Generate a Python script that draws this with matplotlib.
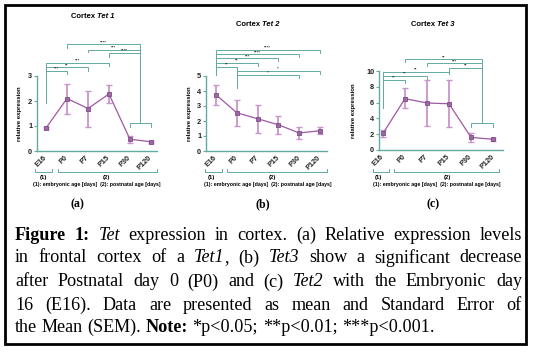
import matplotlib
matplotlib.use("Agg")
import matplotlib.pyplot as plt
from matplotlib.lines import Line2D
from matplotlib.patches import Rectangle

W, H = 535, 352
fig = plt.figure(figsize=(5.35, 3.52), dpi=100)

TEAL = "#62aba3"
PURPLE = "#a157a6"
ERR = "#c994cc"
SANS = ["Liberation Sans", "DejaVu Sans"]
SERIF = ["Liberation Serif", "DejaVu Serif"]

ages = ["E16", "P0", "P7", "P15", "P30", "P120"]

tet1_mean = [0.92, 2.10, 1.70, 2.28, 0.47, 0.37]
tet1_lo = [0.87, 1.50, 0.97, 1.93, 0.33, 0.32]
tet1_hi = [0.97, 2.70, 2.40, 2.65, 0.60, 0.42]

tet2_mean = [3.75, 2.55, 2.15, 1.75, 1.20, 1.35]
tet2_lo = [3.10, 1.65, 1.20, 1.15, 0.80, 1.12]
tet2_hi = [4.40, 3.40, 3.10, 2.35, 1.60, 1.58]

tet3_mean = [2.10, 6.50, 5.95, 5.85, 1.60, 1.35]
tet3_lo = [1.70, 5.30, 3.10, 2.90, 1.00, 1.15]
tet3_hi = [2.50, 7.80, 8.80, 8.80, 2.20, 1.55]

# significance brackets: x1, x2, height, stars, left end, right end
sig1 = [(0, 1, 3.20, "***", 1.92, 3.07), (0, 2, 3.35, "**", 1.92, 3.22),
        (0, 3, 3.53, "***", 1.92, 3.40), (1, 4.48, 4.27, "****", 4.13, 1.12),
        (2, 4.48, 4.04, "***", 3.95, 1.12), (3, 4.48, 3.93, "****", 3.77, 1.12),
        (4, 5, 1.12, "", 0.96, 0.96)]
sig2 = [(0, 5, 6.73, "****", 5.07, 6.53), (0, 4, 6.45, "****", 5.07, 6.25),
        (0, 3, 6.18, "***", 5.07, 5.98), (0, 2, 5.89, "**", 5.07, 5.69),
        (0, 1, 5.62, "**", 5.07, 4.18), (1, 5, 5.35, "*", 4.18, 5.15),
        (1, 4, 5.07, "*", 4.18, 4.87)]
sig3 = [(1, 4.51, 11.48, "**", 11.13, 3.38), (2, 4.51, 10.97, "***", 10.62, 3.38),
        (3, 4.51, 10.42, "**", 9.92, 3.38), (0, 3, 9.92, "**", 5.27, 9.57),
        (0, 2, 9.37, "**", 5.27, 9.02), (0, 1, 8.86, "**", 5.27, 8.51),
        (4, 5, 3.38, "", 2.95, 2.95)]

panels = [
    dict(gene="Tet 1", mean=tet1_mean, lo=tet1_lo, hi=tet1_hi, sig=sig1,
         box=(37, 157, 151, 76), xlim=(-0.43, 5.29), ylim=(0, 3), yticks=[0, 1, 2, 3],
         title=(98, 17), ylab=20, b1=(35, 52), b2=(58, 157), l1=43, l2=106, leg=97, tag=77),
    dict(gene="Tet 2", mean=tet2_mean, lo=tet2_lo, hi=tet2_hi, sig=sig2,
         box=(206, 327, 151, 76), xlim=(-0.48, 5.34), ylim=(0, 5), yticks=[0, 1, 2, 3, 4, 5],
         title=(263, 24), ylab=190, b1=(205, 222), b2=(227, 327), l1=211, l2=272, leg=268, tag=263),
    dict(gene="Tet 3", mean=tet3_mean, lo=tet3_lo, hi=tet3_hi, sig=sig3,
         box=(379, 503, 150, 71), xlim=(-0.18, 5.45), ylim=(0, 10), yticks=[0, 2, 4, 6, 8, 10],
         title=(438, 25), ylab=354, b1=(373, 389), b2=(394, 499), l1=378, l2=447, leg=437, tag=433),
]


def fx(x):
    return x / W


def fy(y):
    return 1 - y / H


def fline(xs, ys, **kw):
    fig.add_artist(Line2D([fx(v) for v in xs], [fy(v) for v in ys], **kw))


for p in panels:
    x0, x1, yb, yt = p["box"]
    ax = fig.add_axes([fx(x0), fy(yb), (x1 - x0) / W, (yb - yt) / H])
    pos = list(range(len(ages)))
    mean = p["mean"]
    yerr = [[m - l for m, l in zip(mean, p["lo"])], [h - m for m, h in zip(mean, p["hi"])]]
    ax.errorbar(pos, mean, yerr=yerr, fmt="none", ecolor=ERR, elinewidth=1.3,
                capsize=2.5, capthick=1.0, zorder=2)
    ax.plot(pos, mean, color=PURPLE, lw=0.9, marker="s", ms=3.2,
            mfc="#9a6aa0", mec="#7e4a86", mew=0.6, zorder=3)
    ax.set_xlim(*p["xlim"])
    ax.set_ylim(*p["ylim"])
    ax.set_yticks(p["yticks"])
    ax.set_xticks(pos)
    ax.set_xticklabels(ages, rotation=45, ha="right", va="center", rotation_mode="anchor")
    for s in ["top", "right"]:
        ax.spines[s].set_visible(False)
    for s in ["left", "bottom"]:
        ax.spines[s].set_color(TEAL)
        ax.spines[s].set_linewidth(1.0)
    ax.tick_params(colors=TEAL, length=2, width=0.8, labelcolor="#222222", pad=1.5)
    ax.tick_params(axis="x", length=0, pad=4)
    for lab in ax.get_xticklabels() + ax.get_yticklabels():
        lab.set_fontsize(5.3)
        lab.set_fontweight("bold")
        lab.set_family(SANS)
    ax.patch.set_alpha(0)

    for a, b, h, stars, e1, e2 in p["sig"]:
        ax.plot([a, a, b, b], [e1, h, h, e2], color=TEAL, lw=0.7, clip_on=False,
                solid_joinstyle="miter")
        if stars:
            ax.text((a + b) / 2, h, stars, fontsize=3.2, ha="center", va="bottom",
                    color="#333333", family=SANS, fontweight="bold")

    # titles and labels in pixel placement
    tx, ty = p["title"]
    fig.text(fx(tx - 1), fy(ty), "Cortex ", ha="right", va="center", fontsize=5.5,
             fontweight="bold", family=SANS)
    fig.text(fx(tx - 1), fy(ty), p["gene"], ha="left", va="center", fontsize=5.5,
             fontweight="bold", fontstyle="italic", family=SANS)
    fig.text(fx(p["ylab"]), fy((yb + yt) / 2), "relative expression", rotation=90,
             ha="center", va="center", fontsize=4.3, fontweight="bold", family=SANS)

    # group brackets under the axis
    for (ba, bb), lx, lab in [(p["b1"], p["l1"], "(1)"), (p["b2"], p["l2"], "(2)")]:
        fline([ba, ba, bb, bb], [169.5, 172.5, 172.5, 169.5], color=TEAL, lw=0.7)
        fig.text(fx(lx), fy(177.5), lab, ha="center", va="center", fontsize=4.3,
                 fontweight="bold", family=SANS)
    fig.text(fx(p["leg"]), fy(184.5), "(1): embryonic age [days]  (2): postnatal age [days]",
             ha="center", va="center", fontsize=3.8, fontweight="bold", family=SANS)
    fig.text(fx(p["tag"]), fy(204), "(" + "abc"[panels.index(p)] + ")", ha="center",
             va="center", fontsize=8.5, fontweight="bold", family=SERIF)

# caption, justified by hand
caption = [
    "^Figure^ ^1:^ ~Tet~ expression in cortex. (a) Relative expression levels",
    "in frontal cortex of a ~Tet1~, (b) ~Tet3~ show a significant decrease",
    "after Postnatal day 0 (P0) and (c) ~Tet2~ with the Embryonic day",
    "16 (E16). Data are presented as mean and Standard Error of",
    "the Mean (SEM). ^Note:^ *p<0.05; **p<0.01; ***p<0.001.",
]
cap_y = [235, 258, 282, 305, 327]
CAP_SIZE = 13.1


def runs(word):
    out, cur, bold, ital = [], "", False, False
    for ch in word:
        if ch in "^~":
            if cur:
                out.append((cur, bold, ital))
            cur = ""
            if ch == "^":
                bold = not bold
            else:
                ital = not ital
        else:
            cur += ch
    if cur:
        out.append((cur, bold, ital))
    return out


renderer = fig.canvas.get_renderer()
for i, (line, y) in enumerate(zip(caption, cap_y)):
    words = []
    for word in line.split(" "):
        arts = []
        for txt, bold, ital in runs(word):
            t = fig.text(0, fy(y), txt, fontsize=CAP_SIZE, family=SERIF, va="center",
                         fontweight="bold" if bold else "normal",
                         fontstyle="italic" if ital else "normal")
            arts.append((t, t.get_window_extent(renderer).width))
        words.append(arts)
    widths = [sum(w for _, w in a) for a in words]
    if i < len(caption) - 1:
        gap = (522 - 15 - sum(widths)) / (len(words) - 1)
    else:
        gap = CAP_SIZE * 100 / 72 * 0.25
    x = 15
    for arts in words:
        for t, w in arts:
            t.set_x(fx(x))
            x += w
        x += gap

fig.add_artist(Rectangle((fx(5), fy(344)), (526 - 5) / W, (344 - 5) / H, fill=False,
                         ec="black", lw=2.0, transform=fig.transFigure))

fig.savefig("out.png", dpi=100)
